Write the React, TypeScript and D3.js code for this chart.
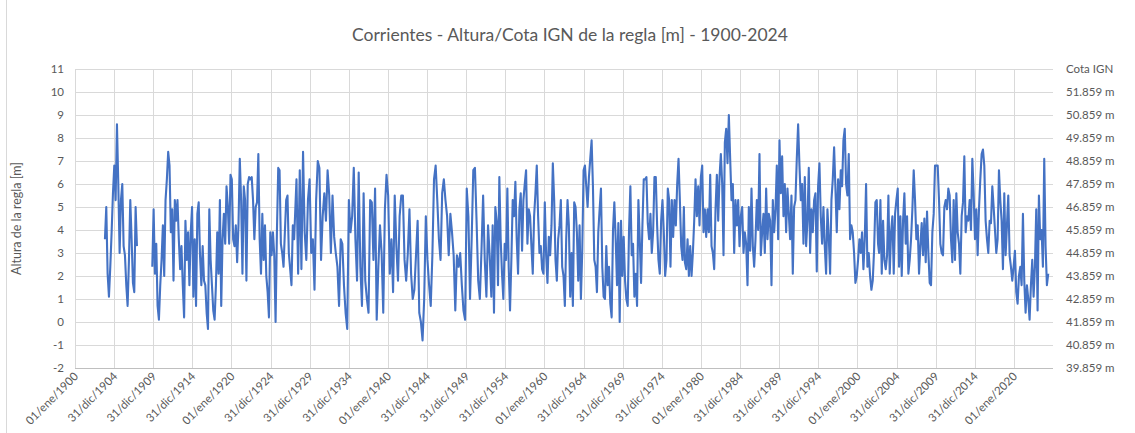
import { useMemo } from "react";
import * as d3 from "d3";

const WIDTH = 1135;
const HEIGHT = 433;
const MARGIN = { left: 75, right: 1053, top: 69, bottom: 368 };
const FONT = "Lato, 'Open Sans', sans-serif";
const TEXT_COLOR = "#595959";
const GRID_COLOR = "#d9d9d9";
const LINE_COLOR = "#4472C4";

const TITLE = "Corrientes - Altura/Cota IGN de la regla [m] - 1900-2024";
const Y_TITLE = "Altura de la regla [m]";

// left axis ticks and right axis labels (same positions)
const yTicks = [-2, -1, 0, 1, 2, 3, 4, 5, 6, 7, 8, 9, 10, 11];
const rightLabels = [
  "39.859 m", "40.859 m", "41.859 m", "42.859 m", "43.859 m", "44.859 m", "45.859 m",
  "46.859 m", "47.859 m", "48.859 m", "49.859 m", "50.859 m", "51.859 m", "Cota IGN",
];

const xTickLabels = [
  "01/ene/1900", "31/dic/1904", "31/dic/1909", "31/dic/1914", "01/ene/1920",
  "31/dic/1924", "31/dic/1929", "31/dic/1934", "01/ene/1940", "31/dic/1944",
  "31/dic/1949", "31/dic/1954", "01/ene/1960", "31/dic/1964", "31/dic/1969",
  "31/dic/1974", "01/ene/1980", "31/dic/1984", "31/dic/1989", "31/dic/1994",
  "01/ene/2000", "31/dic/2004", "31/dic/2009", "31/dic/2014", "01/ene/2020",
];

// river stage readings (m), evenly spaced between each block's start and end year
const blockStart = [1903.83, 1909.88, 1928.31, 1953.21, 1977.95, 2002.77];
const blockEnd = [1907.92, 1928.01, 1953.0, 1977.82, 2002.64, 2024.39];

const level1903 = [3.6, 5.0, 2.1, 1.1, 2.4, 3.9, 5.6, 6.8, 5.3, 8.6, 6.0, 3.0, 5.3, 6.0, 3.3, 2.9, 1.6, 0.7, 2.7, 5.3, 3.6, 1.7, 1.3, 5.0, 3.3];

const level1910 = [
  2.4, 4.9, 2.1, 3.4, 0.7, 0.1, 1.6, 2.7, 4.2, 2.0, 5.3, 6.2, 7.4, 6.8, 3.9, 4.9, 1.8, 5.3, 4.4, 5.3,
  3.6, 2.3, 3.3, 1.6, 0.2, 4.4, 2.7, 3.9, 1.6, 3.9, 5.0, 1.1, 3.6, 0.7, 4.7, 5.2, 2.9, 1.6, 3.3, 1.8,
  1.6, 0.4, -0.3, 4.9, 2.7, 1.6, 0.5, 0.1, 1.6, 3.9, 2.1, 5.3, 0.7, 3.6, 4.7, 3.4, 5.9, 5.0, 3.4, 6.4,
  6.2, 3.6, 3.3, 4.2, 2.6, 4.2, 7.1, 5.3, 2.1, 5.9, 5.3, 1.8, 6.0, 6.3, 6.2, 6.3, 5.3, 3.6, 5.0, 5.2,
  7.3, 3.6, 2.1, 4.7, 2.7, 4.2, 2.0, 1.3, 0.2, 3.9, 2.9, 3.9, 2.9, 0.0, 3.9, 6.7, 6.6, 3.4, 3.0, 2.4,
  3.9, 5.3, 5.5, 3.0, 2.3, 1.6, 4.2, 3.6,
];

const level1928 = [
  6.2, 2.1, 6.6, 2.3, 7.4, 3.9, 2.7, 5.3, 6.2, 3.0, 3.6, 1.4, 5.3, 7.0, 6.7, 2.7, 4.6, 5.6, 4.4, 6.6,
  5.5, 3.0, 5.5, 3.7, 3.0, 2.4, 0.7, 3.6, 3.4, 1.6, 0.4, -0.3, 5.3, 3.9, 4.6, 6.7, 3.6, 1.8, 6.5, 2.4,
  0.7, 5.6, 1.8, 1.0, 0.4, 5.3, 5.2, 2.7, 5.8, 0.1, 2.4, 4.2, 3.0, 0.4, 4.9, 6.4, 5.5, 2.1, 3.6, 1.3,
  5.5, 3.3, 1.8, 4.6, 5.5, 5.5, 2.7, 1.8, 3.0, 4.9, 2.1, 1.0, 1.4, 2.9, 4.4, 0.4, 0.0, -0.8, 1.0, 4.6,
  2.7, 1.6, 0.7, 2.9, 6.2, 6.8, 5.3, 3.6, 2.7, 5.6, 6.2, 5.3, 4.6, 2.9, 4.7, 3.9, 2.9, 0.5, 2.9, 2.4,
  3.0, 1.6, 0.5, 0.1, 5.8, 4.6, 1.0, 3.6, 6.6, 6.7, 4.4, 1.8, 1.0, 3.1, 5.5, 2.7, 1.1, 4.2, 2.9,
];

const level1953 = [
  1.1, 4.2, 0.4, 5.0, 4.4, 1.6, 6.3, 3.6, 2.1, 1.0, 3.4, 2.7, 5.8, 2.4, 0.5, 2.7, 5.3, 4.6, 6.1, 3.6,
  2.1, 4.9, 5.6, 3.1, 5.3, 6.0, 6.6, 3.4, 4.9, 4.6, 3.3, 2.1, 4.6, 5.6, 6.8, 4.6, 3.0, 3.3, 2.3, 2.1,
  5.2, 2.9, 1.7, 3.7, 2.9, 4.2, 6.9, 5.3, 2.7, 1.8, 3.6, 4.2, 5.3, 2.4, 2.0, 0.7, 3.6, 5.3, 4.2, 1.1,
  3.0, 0.7, 5.2, 5.0, 3.9, 1.8, 4.2, 1.0, 3.1, 6.6, 6.8, 5.9, 5.0, 6.3, 7.1, 7.9, 5.9, 2.7, 2.4, 1.3,
  3.9, 4.9, 5.8, 2.4, 1.1, 1.0, 3.3, 1.6, 2.4, 0.8, 0.2, 4.0, 5.2, 3.6, 1.6, 4.3, 0.0, 4.4, 2.0, 3.7,
  1.8, 1.0, 0.7, 4.0, 5.9, 2.9, 3.4, 1.1, 2.1, 0.7, 5.3, 3.6, 1.7, 4.2, 6.2, 6.2, 6.3, 4.3, 3.6, 4.7,
  3.0, 3.9, 6.3, 6.3, 4.2, 2.7, 2.1, 4.4, 5.3, 3.9, 2.0, 2.7, 5.8, 5.3, 2.4, 5.3, 3.7, 5.3, 4.2, 6.0,
  7.1, 5.3, 3.3, 2.7, 5.0,
];

const level1978 = [
  2.6, 2.3, 3.6, 2.0, 3.3, 2.0, 3.0, 4.4, 6.2, 4.6, 5.9, 4.2, 6.3, 6.8, 3.9, 4.9, 3.7, 4.9, 3.9, 6.4,
  3.3, 3.0, 2.3, 4.9, 6.4, 4.4, 6.3, 7.3, 6.0, 2.9, 7.8, 8.4, 6.9, 9.0, 7.1, 5.3, 6.0, 3.0, 5.3, 4.2,
  5.3, 3.3, 4.6, 5.0, 3.0, 3.9, 3.4, 1.6, 5.0, 3.1, 5.8, 3.3, 2.4, 3.6, 5.3, 4.0, 7.3, 2.9, 3.9, 4.7,
  3.0, 5.8, 3.6, 4.7, 4.4, 1.6, 5.3, 3.9, 4.9, 6.8, 3.6, 7.9, 5.6, 7.2, 4.6, 6.0, 3.9, 5.8, 4.7, 3.6,
  5.5, 2.1, 5.0, 5.3, 7.1, 8.6, 6.8, 5.3, 6.0, 3.4, 6.3, 3.3, 4.4, 6.7, 3.0, 4.9, 3.9, 5.3, 5.6, 2.2,
  5.9, 6.9, 4.6, 3.4, 5.0, 3.3, 2.1, 4.9, 3.7, 2.1, 5.3, 6.2, 7.6, 5.8, 3.9, 6.2, 4.9, 6.6, 5.9, 7.9,
  8.4, 6.0, 5.5, 7.3, 3.6, 4.2, 3.9, 3.0, 1.7, 2.0, 2.7, 3.6, 3.0, 3.9, 2.3, 3.6, 6.0, 2.4, 3.0, 2.0,
  1.4, 1.8, 3.1, 5.2, 5.3, 3.4,
];

const level2003 = [
  3.0, 5.3, 2.1, 4.4, 2.7, 2.3, 2.9, 5.5, 2.1, 3.9, 4.6, 2.1, 4.7, 5.3, 5.8, 2.4, 4.6, 2.0, 4.4, 5.6,
  3.4, 4.6, 2.1, 2.7, 3.6, 4.9, 6.6, 5.3, 3.6, 4.2, 2.1, 3.3, 4.3, 2.9, 4.5, 2.6, 4.8, 3.0, 1.7, 1.6,
  3.9, 4.7, 6.8, 6.8, 6.8, 5.3, 3.4, 3.0, 2.9, 5.0, 5.3, 4.9, 5.8, 5.5, 3.6, 2.6, 5.3, 2.7, 5.6, 3.9,
  3.4, 2.1, 4.6, 5.2, 7.2, 3.9, 4.6, 4.4, 5.3, 4.0, 7.1, 5.6, 3.6, 4.9, 2.9, 4.9, 6.2, 7.3, 7.5, 6.8,
  4.4, 3.6, 3.0, 4.4, 4.3, 5.9, 5.0, 4.0, 3.0, 3.6, 6.6, 5.3, 4.4, 2.3, 5.6, 2.9, 4.2, 5.5, 2.9, 2.4,
  1.8, 2.4, 3.1, 1.3, 0.8, 2.0, 2.4, 1.6, 4.7, 1.8, 0.4, 1.6, 1.0, 0.1, 1.6, 2.7, 1.1, 2.4, 4.9, 0.5,
  5.5, 3.6, 4.0, 2.4, 7.1, 3.3, 1.6, 2.1,
];

const monthIndex: Record<string, number> = { ene: 0, dic: 11 };

function parseLabel(s: string) {
  const [d, m, y] = s.split("/");
  return new Date(Date.UTC(+y, monthIndex[m], +d));
}

function yearToDate(y: number) {
  const yr = Math.floor(y);
  const a = Date.UTC(yr, 0, 1);
  const b = Date.UTC(yr + 1, 0, 1);
  return new Date(a + (y - yr) * (b - a));
}

function blockPoints(values: number[], i: number) {
  const n = values.length - 1;
  return values.map((v, k) => ({
    date: yearToDate(blockStart[i] + ((blockEnd[i] - blockStart[i]) * k) / n),
    value: v,
  }));
}

function App() {
  const x = d3
    .scaleUtc()
    .domain([new Date(Date.UTC(1900, 0, 1)), new Date(Date.UTC(2024, 11, 31))])
    .range([MARGIN.left, MARGIN.right]);
  const y = d3.scaleLinear().domain([-2, 11]).range([MARGIN.bottom, MARGIN.top]);

  const paths = useMemo(() => {
    const line = d3
      .line<{ date: Date; value: number }>()
      .x((d) => x(d.date))
      .y((d) => y(d.value));
    const first = blockPoints(level1903, 0);
    const rest = [level1910, level1928, level1953, level1978, level2003].flatMap((b, i) =>
      blockPoints(b, i + 1)
    );
    return [line(first), line(rest)];
  }, []);

  const tickDates = xTickLabels.map(parseLabel);

  return (
    <div>
      <style>{`body{margin:0}`}</style>
      <svg width={WIDTH} height={HEIGHT} style={{ display: "block", background: "#fff" }}>
        <line x1={6.5} x2={6.5} y1={0} y2={HEIGHT} stroke={GRID_COLOR} />
        <text
          x={570}
          y={41}
          textAnchor="middle"
          fontFamily={FONT}
          fontSize={17.5}
          fill={TEXT_COLOR}
        >
          {TITLE}
        </text>

        {/* horizontal grid */}
        {yTicks.map((t) => (
          <line
            key={"h" + t}
            x1={MARGIN.left}
            x2={MARGIN.right}
            y1={Math.round(y(t)) + 0.5}
            y2={Math.round(y(t)) + 0.5}
            stroke={t === -2 ? "#bfbfbf" : GRID_COLOR}
          />
        ))}
        {/* vertical grid */}
        {tickDates.map((d, i) => (
          <line
            key={"v" + i}
            x1={Math.round(x(d)) + 0.5}
            x2={Math.round(x(d)) + 0.5}
            y1={MARGIN.top}
            y2={MARGIN.bottom}
            stroke={GRID_COLOR}
          />
        ))}

        {/* left axis labels */}
        {yTicks.map((t) => (
          <text
            key={"l" + t}
            x={64}
            y={y(t) + 4}
            textAnchor="end"
            fontFamily={FONT}
            fontSize={11.5}
            fill={TEXT_COLOR}
          >
            {t}
          </text>
        ))}
        {/* right axis labels */}
        {yTicks.map((t, i) => (
          <text
            key={"r" + t}
            x={1066}
            y={y(t) + 4}
            fontFamily={FONT}
            fontSize={11.5}
            fill={TEXT_COLOR}
          >
            {rightLabels[i]}
          </text>
        ))}
        <text
          transform={`translate(21, ${(MARGIN.top + MARGIN.bottom) / 2}) rotate(-90)`}
          textAnchor="middle"
          fontFamily={FONT}
          fontSize={12.5}
          fill={TEXT_COLOR}
        >
          {Y_TITLE}
        </text>

        {/* x labels */}
        {tickDates.map((d, i) => (
          <text
            key={"x" + i}
            transform={`translate(${x(d) + 4}, ${MARGIN.bottom + 9}) rotate(-45)`}
            textAnchor="end"
            fontFamily={FONT}
            fontSize={11.5}
            fill={TEXT_COLOR}
          >
            {xTickLabels[i]}
          </text>
        ))}

        {paths.map((p, i) => (
          <path
            key={i}
            d={p || ""}
            fill="none"
            stroke={LINE_COLOR}
            strokeWidth={2.1}
            strokeLinejoin="round"
          />
        ))}
      </svg>
    </div>
  );
}

export default App;
